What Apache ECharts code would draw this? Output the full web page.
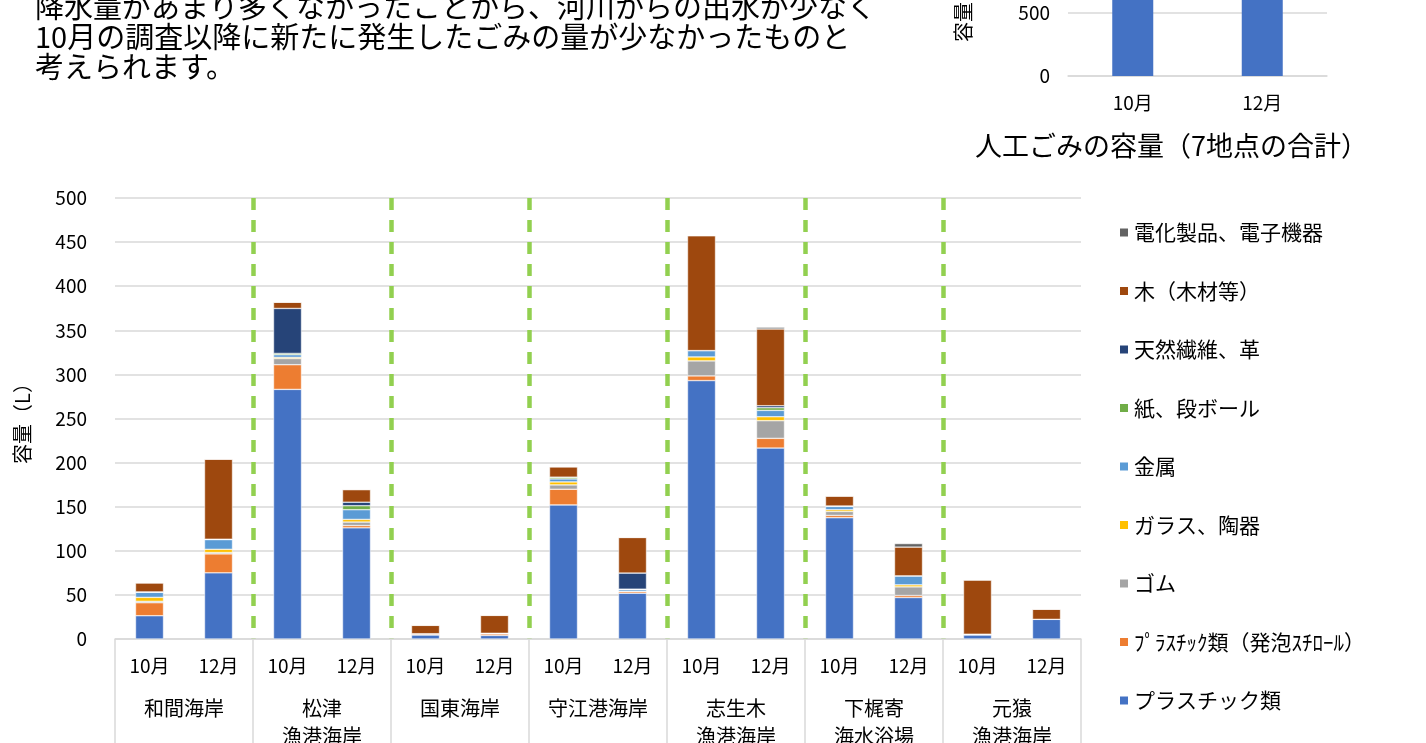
<!DOCTYPE html>
<html>
<head>
<meta charset="utf-8">
<script src="https://cdn.jsdelivr.net/npm/echarts@6/dist/echarts.min.js"></script>
<style>
  html, body { margin: 0; padding: 0; background: #fff; }
  #main { width: 1426px; height: 743px; }
</style>
</head>
<body>
<div id="main"></div>
<script>
// bars: 7 sites x (10月, 12月)
const months = ['10月', '12月', '10月', '12月', '10月', '12月', '10月', '12月', '10月', '12月', '10月', '12月', '10月', '12月'];
const sites = ['和間海岸', '松津\n漁港海岸', '国東海岸', '守江港海岸', '志生木\n漁港海岸', '下梶寄\n海水浴場', '元猿\n漁港海岸'];

// volumes (L), bottom of stack first
const plastic  = [26.4, 75, 283, 126, 4.5, 4, 152, 52, 293, 216.5, 137.5, 47, 4.5, 22.3];
const foam     = [14.7, 21.5, 28, 2.6, 1.5, 2, 17.8, 2, 5.3, 11, 2.6, 2.3, 1, 0];
const rubber   = [1.6, 1.5, 7, 4, 0, 0, 4.9, 0, 17, 20, 4.5, 9.8, 0, 0];
const glass    = [4.5, 3.7, 1.3, 3, 0, 0, 3.4, 0, 4.5, 4.5, 2, 2.3, 0, 0];
const metal    = [5.7, 11, 3, 11, 0, 0.5, 3.4, 2, 7.2, 7.2, 3.7, 10.2, 0, 0];
const paper    = [0.5, 0.5, 1.5, 4.5, 0, 0, 2, 0.5, 0, 3, 0.5, 0, 0, 0];
const fiber    = [0, 0, 51, 4, 0, 0, 0, 18.2, 0, 2.3, 0, 0, 0, 0];
const wood     = [10.2, 90.7, 7, 14.3, 9.5, 20.3, 11.7, 40.4, 130.3, 87, 11.2, 32.6, 61.4, 11.4];
const electric = [0, 0, 0, 0, 0, 0, 0, 0, 0, 2, 0, 4, 0, 0];

// small chart top right: total of 7 sites (only the bottom of it is on screen)
const totalMonths = ['10月', '12月'];
const totalValues = [1342, 1010];

const FONT = '"Noto Sans CJK JP", "Noto Sans", sans-serif';
const GRID_GRAY = '#D9D9D9';

const seriesDefs = [
  { name: 'プラスチック類', data: plastic, color: '#4472C4' },
  { name: 'ﾌﾟﾗｽﾁｯｸ類（発泡ｽﾁﾛｰﾙ）', data: foam, color: '#ED7D31' },
  { name: 'ゴム', data: rubber, color: '#A5A5A5' },
  { name: 'ガラス、陶器', data: glass, color: '#FFC000' },
  { name: '金属', data: metal, color: '#5B9BD5' },
  { name: '紙、段ボール', data: paper, color: '#70AD47' },
  { name: '天然繊維、革', data: fiber, color: '#264478' },
  { name: '木（木材等）', data: wood, color: '#9E480E' },
  { name: '電化製品、電子機器', data: electric, color: '#636363' },
];

const chart = echarts.init(document.getElementById('main'), null, { renderer: 'canvas' });

const option = {
  backgroundColor: '#fff',
  animation: false,
  textStyle: { fontFamily: FONT },
  graphic: [
    {
      type: 'text',
      style: {
        x: 35,
        y: -8,
        text: '降水量があまり多くなかったことから、河川からの出水が少なく\n10月の調査以降に新たに発生したごみの量が少なかったものと\n考えられます。',
        font: '29px ' + FONT,
        lineHeight: 30,
        fill: '#000',
        verticalAlign: 'top',
      },
    },
    {
      type: 'text',
      style: {
        x: 975,
        y: 146,
        text: '人工ごみの容量（7地点の合計）',
        font: '27px ' + FONT,
        fill: '#000',
        verticalAlign: 'middle',
      },
    },
    {
      // y axis name of the small chart, mostly cut off at the top
      type: 'text',
      x: 963,
      y: 42,
      rotation: Math.PI / 2,
      style: {
        text: '容量（L）',
        font: '20px ' + FONT,
        fill: '#000',
        align: 'left',
        verticalAlign: 'middle',
      },
    },
  ],
  legend: {
    orient: 'vertical',
    left: 1118,
    top: 222,
    padding: 0,
    itemWidth: 10,
    itemHeight: 10,
    itemGap: 37.5,
    icon: 'rect',
    textStyle: { fontSize: 21, color: '#000', fontFamily: FONT },
    data: seriesDefs.map((s) => s.name).reverse(),
  },
  grid: [
    { left: 115, right: 345, top: 198, bottom: 104, outerBoundsMode: 'none' },
    { left: 1068, right: 99, top: 0, bottom: 667, outerBoundsMode: 'none' },
  ],
  xAxis: [
    {
      type: 'category',
      gridIndex: 0,
      data: months,
      position: 'bottom',
      axisLine: { lineStyle: { color: GRID_GRAY, width: 1.5 } },
      axisTick: { show: false },
      axisLabel: { fontSize: 19, color: '#000', margin: 17, interval: 0 },
      splitLine: { show: false },
    },
    {
      type: 'category',
      gridIndex: 0,
      data: sites,
      position: 'bottom',
      offset: 0,
      axisLine: { show: false },
      axisTick: { show: true, length: 104, lineStyle: { color: GRID_GRAY, width: 1.5 } },
      axisLabel: { fontSize: 20, color: '#000', margin: 55, lineHeight: 28, interval: 0 },
      splitLine: {
        show: true,
        showMinLine: false,
        showMaxLine: false,
        interval: 0,
        lineStyle: { color: '#92D050', width: 4.5, type: [12, 10] },
      },
    },
    {
      type: 'category',
      gridIndex: 1,
      data: totalMonths,
      axisLine: { lineStyle: { color: GRID_GRAY, width: 1.5 } },
      axisTick: { show: false },
      axisLabel: { fontSize: 19, color: '#000', margin: 17 },
    },
  ],
  yAxis: [
    {
      type: 'value',
      gridIndex: 0,
      min: 0,
      max: 500,
      interval: 50,
      name: '容量（L）',
      nameLocation: 'middle',
      nameGap: 83,
      nameRotate: 90,
      nameTextStyle: { fontSize: 20, color: '#000', fontFamily: FONT },
      axisLine: { show: false },
      axisTick: { show: false },
      axisLabel: { fontSize: 19, color: '#000', margin: 28 },
      splitLine: { lineStyle: { color: GRID_GRAY, width: 1.5 } },
    },
    {
      type: 'value',
      gridIndex: 1,
      min: 0,
      max: 603,
      interval: 500,
      axisLine: { show: false },
      axisTick: { show: false },
      axisLabel: {
        fontSize: 19,
        color: '#000',
        margin: 18,
        formatter: (v) => (v % 500 === 0 ? String(v) : ''),
      },
      splitLine: { showMaxLine: false, lineStyle: { color: GRID_GRAY, width: 1.5 } },
    },
  ],
  series: seriesDefs
    .map((s) => ({
      name: s.name,
      type: 'bar',
      stack: 'total',
      xAxisIndex: 0,
      yAxisIndex: 0,
      barWidth: 28,
      data: s.data,
      itemStyle: { color: s.color, borderColor: '#fff', borderWidth: 0.5 },
    }))
    .concat([
      {
        name: '合計',
        type: 'bar',
        xAxisIndex: 2,
        yAxisIndex: 1,
        barWidth: 41,
        clip: true,
        data: totalValues,
        itemStyle: { color: '#4472C4' },
      },
    ]),
};

chart.setOption(option);
</script>
</body>
</html>
